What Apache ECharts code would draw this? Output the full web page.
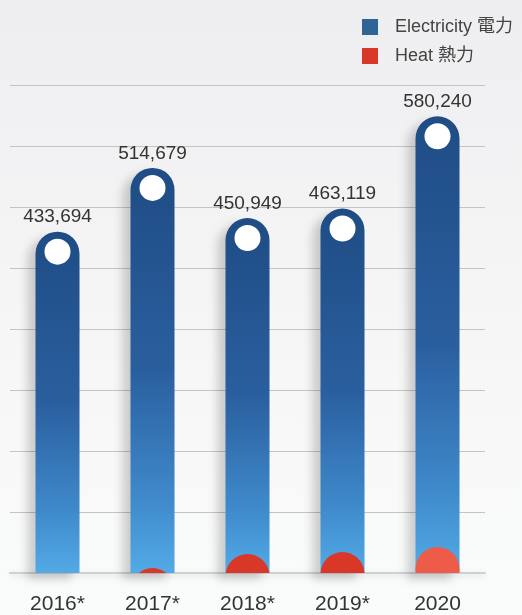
<!DOCTYPE html>
<html><head><meta charset="utf-8">
<script src="https://cdn.jsdelivr.net/npm/echarts@6/dist/echarts.min.js"></script>
<style>html,body{margin:0;padding:0;}#c{width:522px;height:615px;}</style>
</head><body><div id="c"></div>
<script>
const categories = ['2016*', '2017*', '2018*', '2019*', '2020'];
const electricity = [433694, 514679, 450949, 463119, 580240];
const heat = [0, 6300, 24000, 26600, 32900];
const heatColors = ['#D93829', '#D93829', '#D93829', '#D93829', '#EE5B48'];
const yTicks = { min: 0, max: 620000, interval: 77500 };

const FONT = '"Liberation Sans", "Noto Sans CJK TC", sans-serif';
const chart = echarts.init(document.getElementById('c'));
const BAR_W = 44;

chart.setOption({
  backgroundColor: new echarts.graphic.LinearGradient(0, 0, 0, 1, [
    { offset: 0, color: '#EEEEF0' },
    { offset: 0.6, color: '#F7F7F8' },
    { offset: 1, color: '#FAFBFB' }
  ]),
  animation: false,
  legend: {
    orient: 'vertical',
    left: 357,
    top: 13,
    itemWidth: 16,
    itemHeight: 16,
    itemGap: 11,
    textStyle: { fontFamily: FONT, fontSize: 18, color: '#444', padding: [0, 0, 0, 12] },
    data: [
      { name: 'Electricity 電力', icon: 'rect', itemStyle: { color: '#2F6497' } },
      { name: 'Heat 熱力', icon: 'rect', itemStyle: { color: '#D93829' } }
    ]
  },
  grid: { left: 10, right: 37, top: 85, bottom: 40 },
  xAxis: {
    type: 'category',
    data: categories,
    axisTick: { show: false },
    axisLine: { lineStyle: { color: '#D0D0D2', width: 2, shadowColor: 'rgba(0,0,0,0.15)', shadowBlur: 6, shadowOffsetY: 2 } },
    axisLabel: { fontFamily: FONT, fontSize: 21, color: '#333', margin: 21 }
  },
  yAxis: {
    type: 'value',
    min: yTicks.min, max: yTicks.max, interval: yTicks.interval,
    axisLabel: { show: false },
    axisLine: { show: false },
    axisTick: { show: false },
    splitLine: { lineStyle: { color: '#C4C4C6', width: 1 } }
  },
  series: [
    {
      name: 'Electricity 電力',
      type: 'bar',
      data: electricity,
      barWidth: BAR_W,
      z: 2,
      itemStyle: {
        borderRadius: [22, 22, 0, 0],
        color: new echarts.graphic.LinearGradient(0, 0, 0, 1, [
          { offset: 0, color: '#1F4C84' },
          { offset: 0.5, color: '#2A5F9F' },
          { offset: 0.82, color: '#3F8ACB' },
          { offset: 1, color: '#52AAE6' }
        ]),
        shadowColor: 'rgba(0,0,0,0.18)',
        shadowBlur: 10,
        shadowOffsetX: -8,
        shadowOffsetY: 6
      },
      label: {
        show: true,
        position: 'top',
        distance: 5,
        fontFamily: FONT,
        fontSize: 19,
        color: '#333',
        formatter: p => p.value.toLocaleString('en-US')
      }
    },
    {
      name: 'Electricity 電力',
      type: 'scatter',
      data: electricity,
      symbol: 'circle',
      symbolSize: 26,
      symbolOffset: [0, 20],
      z: 4,
      silent: true,
      itemStyle: { color: '#FFFFFF', opacity: 1 }
    },
    {
      name: 'Heat 熱力',
      type: 'custom',
      clip: true,
      z: 3,
      data: heat.map((v, i) => [i, v]),
      renderItem: function (params, api) {
        const top = api.coord([api.value(0), api.value(1)]);
        const r = BAR_W / 2;
        return {
          type: 'circle',
          shape: { cx: top[0], cy: top[1] + r, r: r },
          style: { fill: heatColors[params.dataIndex] }
        };
      }
    }
  ]
});
</script>
</body></html>
